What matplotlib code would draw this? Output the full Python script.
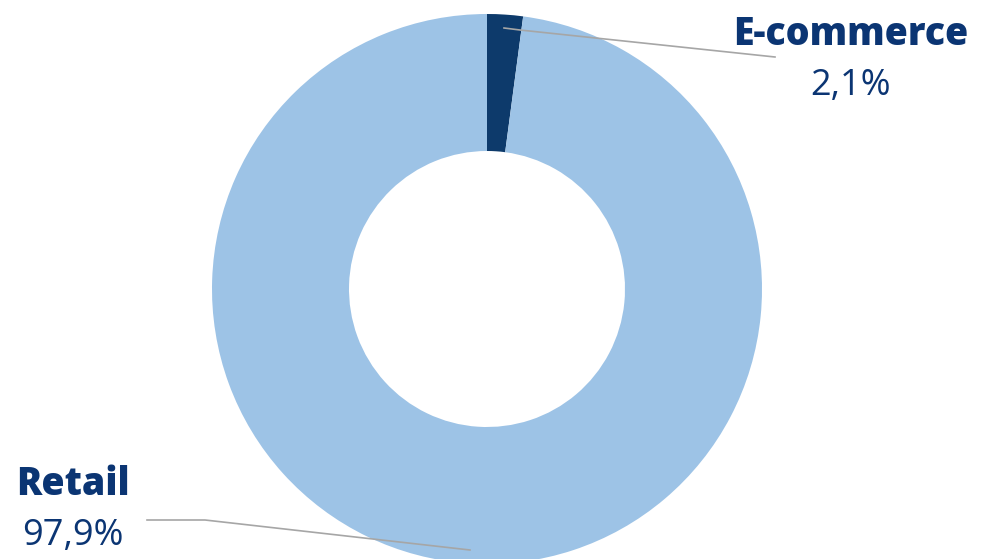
import matplotlib
matplotlib.use("Agg")
import matplotlib.pyplot as plt

# data
labels = ["E-commerce", "Retail"]
shares = [2.1, 97.9]
share_labels = ["2,1%", "97,9%"]
colors = ["#0D3A6B", "#9DC3E6"]

W, H = 984, 559
fig = plt.figure(figsize=(W / 100, H / 100), dpi=100)
ax = fig.add_axes([0, 0, 1, 1])

# pixel coords, y measured from top
cx, cy, r = 487, 289, 275
ax.pie(shares, colors=colors, startangle=90, counterclock=False,
       center=(cx, H - cy), radius=r,
       wedgeprops=dict(width=137, edgecolor="none"))
ax.set_xlim(0, W)
ax.set_ylim(0, H)
ax.set_aspect("auto")
ax.axis("off")

txt_color = "#0B3573"
line_color = "#A6A6A6"
font = "Open Sans"

# leader lines
ax.plot([504, 520, 775], [H - 28, H - 30, H - 57], color=line_color, lw=1.2)
ax.plot([147, 205, 470], [H - 520, H - 520, H - 550], color=line_color, lw=1.2)

# labels
ax.text(851, H - 45, labels[0], color=txt_color, fontsize=27, fontweight="heavy",
        family=font, ha="center", va="baseline")
ax.text(851, H - 95, share_labels[0], color=txt_color, fontsize=26,
        family=font, ha="center", va="baseline")
ax.text(73, H - 495, labels[1], color=txt_color, fontsize=27, fontweight="heavy",
        family=font, ha="center", va="baseline")
ax.text(73, H - 545, share_labels[1], color=txt_color, fontsize=26,
        family=font, ha="center", va="baseline")

fig.savefig("out.png", dpi=100)
